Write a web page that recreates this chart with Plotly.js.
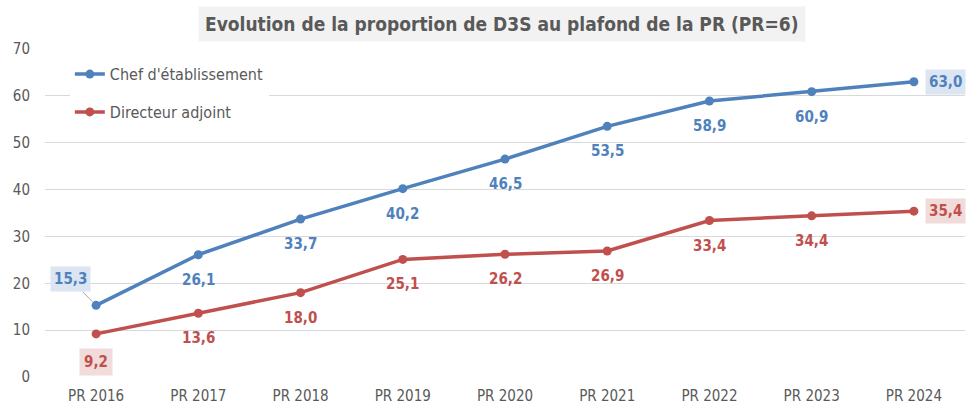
<!DOCTYPE html>
<html>
<head>
<meta charset="utf-8">
<script src="https://cdn.plot.ly/plotly-3.0.1.min.js"></script>
<style>body{margin:0;background:#fff;} #chart{width:969px;height:407px;}</style>
</head>
<body>
<div id="chart"></div>
<script>
var years = ["PR 2016", "PR 2017", "PR 2018", "PR 2019", "PR 2020", "PR 2021", "PR 2022", "PR 2023", "PR 2024"];
var chef = [15.3, 26.1, 33.7, 40.2, 46.5, 53.5, 58.9, 60.9, 63.0];
var adjoint = [9.2, 13.6, 18.0, 25.1, 26.2, 26.9, 33.4, 34.4, 35.4];

var blue = '#4f81bd', red = '#c0504d';
var fnt = '"Liberation Sans Narrow", "DejaVu Sans Condensed", Lato, sans-serif';

function fmt(v) { return v.toFixed(1).replace('.', ','); }

var annots = [];
function addLabels(vals, color, bg) {
    vals.forEach(function(v, i) {
        var a = {
            x: years[i], y: v, xref: 'x', yref: 'y',
            text: '<b>' + fmt(v) + '</b>',
            font: {family: fnt, size: 15, color: color},
            showarrow: true, arrowcolor: 'rgba(0,0,0,0)', ax: 0, ay: 25
        };
        if (i === vals.length - 1) {
            a.ax = 32; a.ay = 0; a.bgcolor = bg; a.borderpad = 3;
        }
        annots.push(a);
    });
}
addLabels(chef, blue, '#dce6f2');
addLabels(adjoint, red, '#f2dcdb');
// first-point labels with boxes
annots[0].ax = -26; annots[0].ay = -26; annots[0].bgcolor = '#dce6f2';
annots[0].borderpad = 3; annots[0].arrowcolor = '#a6a6a6'; annots[0].arrowhead = 0;
annots[0].arrowwidth = 1; annots[0].standoff = 5;
annots[9].ay = 28; annots[9].bgcolor = '#f2dcdb'; annots[9].borderpad = 4;

annots.push({
    xref: 'paper', yref: 'paper', x: 0.497, y: 1.0, yshift: 25, yanchor: 'middle',
    text: '<b>Evolution de la proportion de D3S au plafond de la PR (PR=6)</b>',
    font: {family: fnt, size: 19, color: '#595959'},
    showarrow: false, bgcolor: '#f2f2f2', borderpad: 6
});

Plotly.newPlot('chart', [{
    x: years, y: chef, name: "Chef d'établissement", type: 'scatter', mode: 'lines+markers',
    line: {color: blue, width: 3.5}, marker: {color: blue, size: 9}, legendgroup: 'a'
}, {
    x: years, y: adjoint, name: 'Directeur adjoint', type: 'scatter', mode: 'lines+markers',
    line: {color: red, width: 3.5}, marker: {color: red, size: 9}, legendgroup: 'b'
}], {
    width: 969, height: 407,
    margin: {l: 45, r: 4, t: 49, b: 30},
    paper_bgcolor: '#fff', plot_bgcolor: '#fff',
    font: {family: fnt, size: 14, color: '#595959'},
    showlegend: true,
    legend: {x: 0.027, y: 0.975, xanchor: 'left', yanchor: 'top', bgcolor: '#fff',
             font: {family: fnt, size: 16, color: '#595959'}, tracegroupgap: 14},
    xaxis: {range: [-0.5, 8.5], showgrid: false, zeroline: false, showline: false,
            ticks: '', ticklabelstandoff: 8, tickfont: {size: 15, color: '#595959'}, fixedrange: true},
    yaxis: {range: [0, 70], dtick: 10, gridcolor: '#d9d9d9', gridwidth: 1, zeroline: false,
            showline: false, ticks: '', ticklabelstandoff: 14,
            tickfont: {size: 15, color: '#595959'}, fixedrange: true},
    annotations: annots
}, {displayModeBar: false, staticPlot: true});
</script>
</body>
</html>
